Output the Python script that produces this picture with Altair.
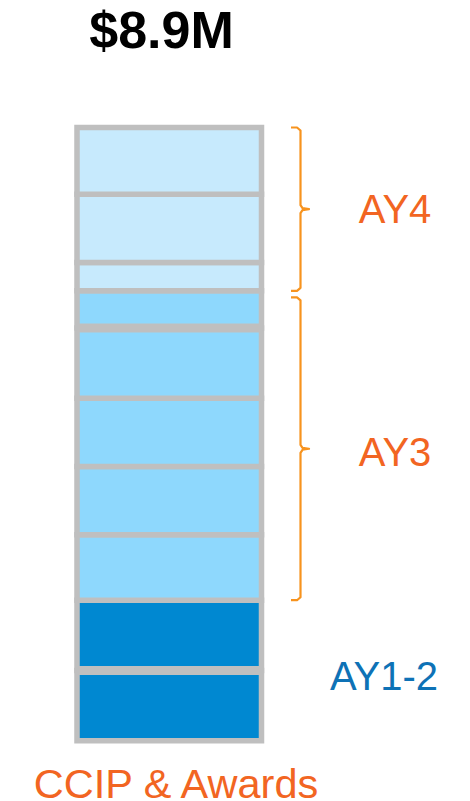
import altair as alt
import pandas as pd

# ---- data ($M, bottom to top) ----
segment_values = [1.02, 1.02, 0.95, 0.99, 0.99, 1.02, 0.54, 0.41, 0.99, 0.97]
segment_groups = ["AY1-2", "AY1-2", "AY3", "AY3", "AY3", "AY3", "AY3", "AY4", "AY4", "AY4"]
group_names = ["AY1-2", "AY3", "AY4"]
bracketed_groups = ["AY4", "AY3"]
total_label = "$8.9M"
category_label = "CCIP & Awards"

# ---- styling / layout ----
W, H = 470, 801
Y_BOTTOM_PX = 740.8
PX_PER_UNIT = 613.3 / 8.9
FILL = {"AY1-2": "#0088D1", "AY3": "#8ED8FD", "AY4": "#C7EAFD"}
LABEL_COLOR = {"AY1-2": "#0E72B6", "AY3": "#F26522", "AY4": "#F26522"}
LABEL_X = {"AY1-2": 384, "AY3": 395, "AY4": 395}
LABEL_DY = {"AY1-2": 19.5, "AY3": 20.5, "AY4": 13.5}
BRACKET_TOP_INSET = {"AY4": 0.0, "AY3": 6.5}
GRAY = "#BFBFBF"
ORANGE_LINE = "#F7931E"
FONT = "Liberation Sans"

ymin = -(H - Y_BOTTOM_PX) / PX_PER_UNIT
ydom = [ymin, ymin + H / PX_PER_UNIT]
yscale = alt.Scale(domain=ydom, nice=False, zero=False)
xscale = alt.Scale(domain=[0, W], nice=False, zero=False)

# segments table
starts, ends = [], []
acc = 0.0
for v in segment_values:
    starts.append(acc)
    acc += v
    ends.append(acc)
seg_df = pd.DataFrame({"start": starts, "end": ends, "group": segment_groups,
                       "idx": list(range(len(segment_values)))})

# group extents
ext = {}
for g in group_names:
    sub = seg_df[seg_df.group == g]
    ext[g] = (sub.start.min(), sub.end.max())

bars = alt.Chart(seg_df).mark_rect(stroke=GRAY, strokeWidth=5.5).encode(
    y=alt.Y("start:Q", scale=yscale, axis=None),
    y2="end:Q",
    x=alt.value(77),
    x2=alt.value(261.5),
    color=alt.Color("group:N",
                    scale=alt.Scale(domain=group_names, range=[FILL[g] for g in group_names]),
                    legend=None),
)

# thicker separators (between first two segments and between AY3 blocks)
thick_df = pd.DataFrame({"y": [ends[0], ends[5]]})
thick = alt.Chart(thick_df).mark_rule(stroke=GRAY, strokeWidth=9).encode(
    y=alt.Y("y:Q", scale=yscale, axis=None),
    x=alt.value(77),
    x2=alt.value(261.5),
)

# brackets built from the group extents
rows = []
u = 1.0 / PX_PER_UNIT
for g in bracketed_groups:
    lo, hi = ext[g]
    top = hi - BRACKET_TOP_INSET[g] * u
    bot = lo
    mid = (top + bot) / 2
    pts = [(291, top), (297, top), (300.5, top - 3 * u), (300.5, mid + 4 * u),
           (302.5, mid + 1 * u), (309, mid), (302.5, mid - 1 * u), (300.5, mid - 4 * u),
           (300.5, bot + 3 * u), (297, bot), (291, bot)]
    for i, (px, py) in enumerate(pts):
        rows.append({"b": g, "o": i, "x": px, "y": py})
br_df = pd.DataFrame(rows)
brackets = alt.Chart(br_df).mark_line(stroke=ORANGE_LINE, strokeWidth=2.2,
                                      strokeJoin="round").encode(
    x=alt.X("x:Q", scale=xscale, axis=None),
    y=alt.Y("y:Q", scale=yscale, axis=None),
    detail="b:N",
    order="o:Q",
)

# group labels
label_layers = []
for g in group_names:
    lo, hi = ext[g]
    ldf = pd.DataFrame({"t": [g], "y": [(lo + hi) / 2]})
    label_layers.append(
        alt.Chart(ldf).mark_text(font=FONT, fontSize=40, color=LABEL_COLOR[g],
                                 baseline="alphabetic", align="center",
                                 dy=LABEL_DY[g]).encode(
            text="t:N",
            x=alt.value(LABEL_X[g]),
            y=alt.Y("y:Q", scale=yscale, axis=None),
        )
    )

title = alt.Chart(pd.DataFrame({"t": [total_label]})).mark_text(
    font=FONT, fontSize=52, fontWeight="bold", color="#000000",
    baseline="alphabetic", align="center").encode(
    text="t:N", x=alt.value(161.5), y=alt.value(48))

cat = alt.Chart(pd.DataFrame({"t": [category_label]})).mark_text(
    font=FONT, fontSize=41.5, color="#F26522",
    baseline="alphabetic", align="center").encode(
    text="t:N", x=alt.value(176), y=alt.value(797.5))

chart = alt.layer(bars, thick, brackets, *label_layers, title, cat).properties(
    width=W, height=H, padding=0,
    autosize=alt.AutoSizeParams(type="none"),
).configure_view(stroke=None).resolve_scale(color="independent")

chart.save("out.html", embed_options={"renderer": "svg", "actions": False})
